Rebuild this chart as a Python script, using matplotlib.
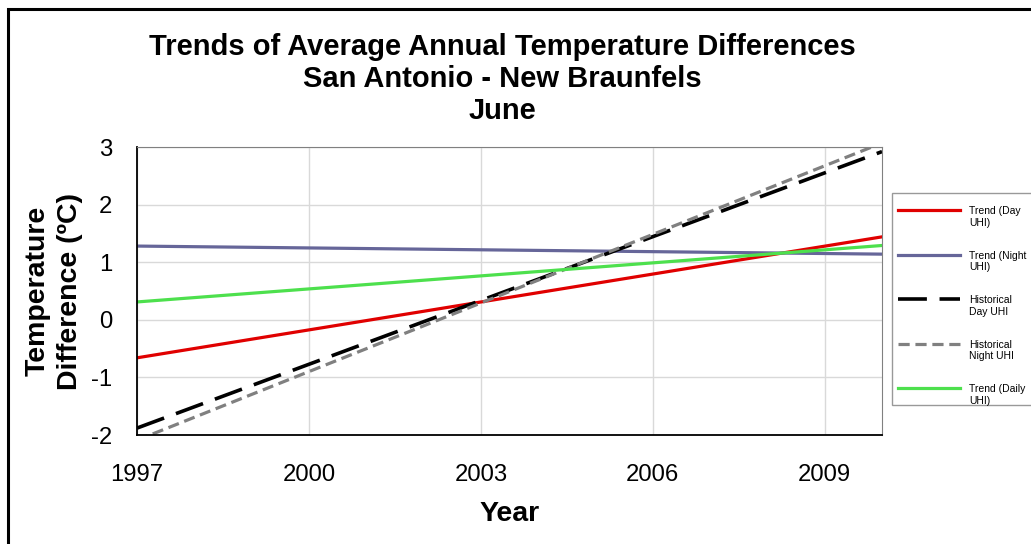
import matplotlib
matplotlib.use("Agg")
import matplotlib.pyplot as plt
from matplotlib.patches import Rectangle

plt.rcParams['font.family'] = ['Liberation Sans', 'DejaVu Sans']
plt.rcParams['axes.unicode_minus'] = False

years = [1997, 2010]
trend_day = [-0.66, 1.44]
trend_night = [1.28, 1.14]
hist_day = [-1.88, 2.92]
hist_night = [-2.09, 3.07]
trend_daily = [0.31, 1.29]

x_ticks = [1997, 2000, 2003, 2006, 2009]
y_ticks = [-2, -1, 0, 1, 2, 3]
title_lines = ["Trends of Average Annual Temperature Differences",
               "San Antonio - New Braunfels", "June"]

fig = plt.figure(figsize=(10.31, 5.44), dpi=100)
fig.patches.append(Rectangle((8/1031, -0.1), 1.2, (544-9)/544 + 0.1,
                             transform=fig.transFigure, fill=False,
                             edgecolor='black', linewidth=2.2))

ax = fig.add_axes([137/1031, 1 - 435/544, 745/1031, 288/544])
ax.plot(years, trend_day, color='#e00000', lw=2.3, label='Trend (Day\nUHI)')
ax.plot(years, trend_night, color='#666699', lw=2.3, label='Trend (Night\nUHI)')
ax.plot(years, hist_day, color='black', lw=2.6, dashes=(8, 3.5), label='Historical\nDay UHI')
ax.plot(years, hist_night, color='#808080', lw=2.3, dashes=(3.5, 1.8), label='Historical\nNight UHI')
ax.plot(years, trend_daily, color='#4de04d', lw=2.3, label='Trend (Daily\nUHI)')

ax.set_xlim(1997, 2010)
ax.set_ylim(-2, 3)
ax.set_xticks(x_ticks)
ax.set_yticks(y_ticks)
ax.tick_params(length=0, labelsize=17.2)
ax.tick_params(axis='x', pad=21)
ax.tick_params(axis='y', pad=18)
ax.grid(True, color='#d9d9d9', lw=1)
ax.set_axisbelow(True)
for s in ['top', 'right']:
    ax.spines[s].set_color('#808080')
for s in ['left', 'bottom']:
    ax.spines[s].set_color('black')
    ax.spines[s].set_linewidth(1.3)

ax.set_xlabel('Year', fontsize=20.5, fontweight='bold', labelpad=11)
ax.set_ylabel('Temperature\nDifference (ºC)', fontsize=20.5, fontweight='bold',
              labelpad=5.5, linespacing=1.3)

for i, t in enumerate(title_lines):
    fig.text(502/1031, 1 - (47 + 32*i)/544, t, ha='center', va='center',
             fontsize=21, fontweight='bold')

leg = ax.legend(loc='upper left', bbox_to_anchor=(892/1031, 1 - 193/544),
                bbox_transform=fig.transFigure, fontsize=7.5, frameon=True,
                fancybox=False, edgecolor='#808080', handlelength=5.9,
                handletextpad=0.9, labelspacing=2.2, borderpad=0.6,
                borderaxespad=0)
leg.get_frame().set_linewidth(1)
for t in leg.get_texts():
    t.set_y(-7)

fig.savefig('out.png', dpi=100)
